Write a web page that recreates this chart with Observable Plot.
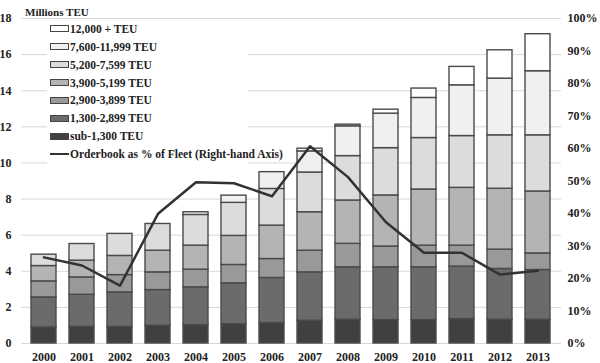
<!DOCTYPE html>
<html><head><meta charset="utf-8">
<script src="https://cdn.jsdelivr.net/npm/d3@7"></script>
<script src="https://cdn.jsdelivr.net/npm/@observablehq/plot@0.6"></script>
<style>
body{margin:0;background:#fff}
#wrap{position:relative;width:600px;height:363px;font-family:"Liberation Serif","Times New Roman",serif;font-weight:bold;color:#222}
#legend{position:absolute;left:47px;top:20px;width:201px;height:146px;background:#fff;font-size:11.5px;white-space:nowrap;overflow:visible}
.row{height:17.86px;display:flex;align-items:center;padding-left:3px}
.sw{flex:0 0 auto;width:17px;height:5px;border:1px solid #444;margin-right:1px;box-sizing:content-box}
.ln{flex:0 0 auto;width:19px;height:2.5px;background:#333;margin-right:1px}
</style></head><body><div id="wrap"></div>
<script>
const years = ["2000","2001","2002","2003","2004","2005","2006","2007","2008","2009","2010","2011","2012","2013"];
const categories = ["sub-1,300 TEU","1,300-2,899 TEU","2,900-3,899 TEU","3,900-5,199 TEU","5,200-7,599 TEU","7,600-11,999 TEU","12,000 + TEU"];
const colors = ["#404040","#6b6b6b","#999999","#b4b4b4","#dcdcdc","#f0f0f0","#ffffff"];
const sub1300   = [0.89,0.92,0.92,0.98,1.02,1.07,1.13,1.26,1.32,1.30,1.30,1.35,1.32,1.32];
const t1300     = [1.66,1.78,1.91,1.98,2.09,2.26,2.50,2.68,2.90,2.92,2.92,2.91,2.81,2.75];
const t2900     = [0.89,0.96,0.96,0.98,0.98,1.02,1.05,1.20,1.30,1.15,1.20,1.16,1.07,0.92];
const t3900     = [0.85,0.93,1.06,1.20,1.33,1.61,1.85,2.13,2.40,2.83,3.11,3.20,3.37,3.43];
const t5200     = [0.63,0.92,1.22,1.48,1.70,1.83,2.03,2.20,2.46,2.62,2.85,2.87,2.96,3.11];
const t7600     = [0,0,0,0,0.15,0.40,0.93,1.17,1.65,1.91,2.22,2.81,3.14,3.55];
const t12000    = [0,0,0,0,0,0,0,0.15,0.09,0.22,0.52,1.02,1.57,2.05];
const orderbookPct = [26.5,24.0,17.8,39.9,49.6,49.3,45.3,60.7,51.2,37.3,27.9,27.9,21.2,22.4];
const leftTicks = [0,2,4,6,8,10,12,14,16,18];
const rightTicks = [0,10,20,30,40,50,60,70,80,90,100];
const lineLabel = "Orderbook as % of Fleet (Right-hand Axis)";
const yMax = 18; // left axis max; right axis 100% maps to it

const series = [sub1300,t1300,t2900,t3900,t5200,t7600,t12000];
const rows = [];
series.forEach((vals, ci) => vals.forEach((v, i) => { if (v > 0) rows.push({year: years[i], cat: categories[ci], value: v}); }));
const lineRows = years.map((y, i) => ({year: y, pct: orderbookPct[i]}));
const pctToY = p => p * yMax / 100;

const chart = Plot.plot({
  width: 600, height: 363,
  marginLeft: 21, marginRight: 39, marginTop: 18, marginBottom: 20,
  style: {fontFamily: '"Liberation Serif","Times New Roman",serif', fontSize: "12px", fontWeight: "bold", color: "#222", background: "transparent"},
  x: {type: "band", domain: years, paddingInner: 0.33, paddingOuter: 0.18},
  y: {domain: [0, yMax]},
  color: {domain: categories, range: colors},
  marks: [
    Plot.gridY(leftTicks, {stroke: "#d8d8d8", strokeOpacity: 1}),
    Plot.barY(rows, {x: "year", y: "value", fill: "cat", order: categories, stroke: "#4a4a4a", strokeWidth: 1.4}),
    Plot.line(lineRows, {x: "year", y: d => pctToY(d.pct), stroke: "#333", strokeWidth: 2.5}),
    Plot.axisY(leftTicks, {anchor: "left", tickSize: 0, tickPadding: 10, label: null}),
    Plot.axisY(rightTicks.map(pctToY), {anchor: "right", tickSize: 0, tickPadding: 6, label: null, tickFormat: d => Math.round(d * 100 / yMax) + "%"}),
    Plot.axisX({tickSize: 0, tickPadding: 9, label: null}),
    Plot.text(["Millions TEU"], {frameAnchor: "top-left", dx: 3.5, dy: -10.5, textAnchor: "start", fontWeight: "bold", fontSize: 11})
  ]
});
const wrap = document.getElementById("wrap");
wrap.appendChild(chart);

const legend = document.createElement("div");
legend.id = "legend";
categories.map((c, i) => [c, colors[i]]).reverse().forEach(([c, col]) => {
  const r = document.createElement("div"); r.className = "row";
  const s = document.createElement("span"); s.className = "sw"; s.style.background = col;
  r.appendChild(s); r.appendChild(document.createTextNode(c)); legend.appendChild(r);
});
const lr = document.createElement("div"); lr.className = "row";
const ls = document.createElement("span"); ls.className = "ln";
lr.appendChild(ls); lr.appendChild(document.createTextNode(lineLabel)); legend.appendChild(lr);
wrap.appendChild(legend);
</script></body></html>
